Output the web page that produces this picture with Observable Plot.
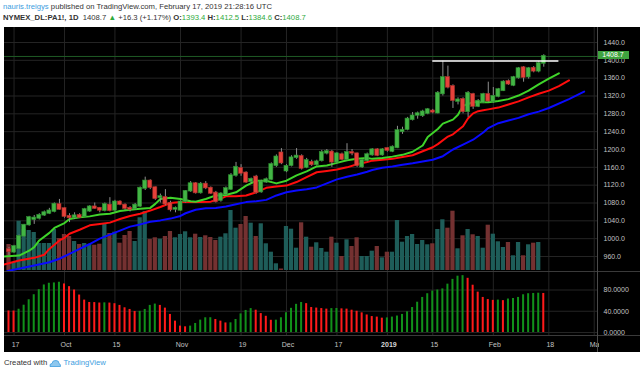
<!DOCTYPE html>
<html><head><meta charset="utf-8">
<script src="https://cdn.jsdelivr.net/npm/d3@7"></script>
<script src="https://cdn.jsdelivr.net/npm/@observablehq/plot@0.6"></script>
<style>
html,body{margin:0;padding:0;background:#fff;}
body{width:640px;height:374px;position:relative;overflow:hidden;font-family:"Liberation Sans",Arial,sans-serif;}
.hdr{position:absolute;left:3px;font-size:7.7px;line-height:9px;color:#333;white-space:nowrap;}
#h1{top:2px}
#h2{top:13px}
.g{color:#2eaa3c}
.bl{color:#3d9ee0}
#chart{position:absolute;left:4px;top:27px;width:636px;height:325px;background:#000;overflow:hidden}
.layer{position:absolute;left:0}
.layer svg{display:block}
#tag{position:absolute;left:593px;width:32px;height:8px;background:#3fa33f;color:#fff;font-size:7px;line-height:8px;text-align:center}
.hl{position:absolute;left:0;width:636px;height:1px;background:#3a3a3a}
#vsep{position:absolute;left:593px;top:0;width:1px;height:325px;background:#4a4a4a}
#foot{position:absolute;left:4px;top:358px;font-size:7.7px;line-height:10px;color:#333;white-space:nowrap;display:flex;align-items:center}
</style></head>
<body>
<div id="h1" class="hdr"></div>
<div id="h2" class="hdr"></div>
<div id="chart"></div>
<div id="foot">Created with&nbsp;<svg width="12" height="8" viewBox="0 0 12 8"><path d="M1 7.5 Q0.5 4.5 3 4.5 Q3.5 1 7 1.5 Q10 1.5 10 4.5 Q11.8 5 11.5 7.5 Z" fill="#8fc8ee" stroke="#3d9ee0" stroke-width="0.8"/></svg><span class="bl">&nbsp;TradingView</span></div>
<script>
// ---------- data ----------
const openP = [975,970,978,1006,1031,1043,1046,1053,1057,1061,
1076,1067,1050,1047,1052,1050,1062,1071,1068,1063,
1075,1064,1082,1075,1068,1067,1073,1113,1129,1114,
1092,1092,1079,1066,1064,1083,1107,1123,1103,1122,
1113,1102,1086,1099,1111,1142,1157,1147,1128,1138,
1105,1127,1133,1164,1192,1152,1164,1182,1184,1160,
1171,1166,1175,1192,1194,1172,1188,1178,1193,1190,
1161,1175,1188,1199,1188,1202,1196,1204,1240,1245,
1267,1277,1276,1281,1286,1282,1325,1361,1341,1308,
1312,1285,1323,1297,1306,1323,1307,1319,1332,1352,
1344,1361,1383,1363,1382,1376,1393.4];
const highP = [980,985,1008,1032,1050,1052,1056,1062,1068,1080,
1088,1069,1056,1058,1056,1068,1074,1080,1070,1080,
1092,1086,1085,1078,1072,1079,1116,1138,1132,1116,
1100,1110,1084,1071,1085,1108,1128,1126,1126,1128,
1116,1106,1103,1116,1146,1171,1166,1150,1136,1142,
1131,1136,1170,1188,1202,1166,1186,1202,1188,1180,
1176,1176,1198,1200,1198,1193,1192,1213,1200,1192,
1178,1192,1202,1202,1202,1204,1208,1252,1250,1272,
1283,1284,1288,1292,1290,1330,1398,1387,1345,1316,
1316,1330,1326,1312,1326,1351,1339,1337,1354,1356,
1364,1384,1386,1384,1386,1397,1412.5];
const lowP = [962,967,976,1004,1028,1032,1042,1050,1054,1058,
1064,1046,1036,1043,1045,1048,1059,1066,1058,1060,
1060,1060,1074,1064,1060,1064,1070,1108,1110,1086,
1080,1074,1060,1058,1062,1080,1104,1100,1100,1110,
1099,1080,1082,1096,1108,1138,1140,1124,1124,1100,
1102,1124,1130,1160,1166,1148,1161,1178,1154,1157,
1162,1163,1172,1188,1160,1168,1175,1175,1186,1160,
1158,1172,1185,1184,1185,1194,1193,1202,1234,1242,
1264,1268,1272,1278,1280,1280,1320,1336,1292,1300,
1280,1272,1290,1294,1303,1305,1304,1316,1330,1344,
1341,1358,1351,1358,1372,1372,1384.6];
const closeP = [971,982,1005,1030,1047,1046,1052,1058,1062,1077,
1066,1050,1047,1051,1048,1065,1071,1068,1064,1076,
1063,1082,1077,1068,1066,1075,1113,1129,1115,1090,
1094,1078,1065,1068,1082,1106,1123,1103,1122,1114,
1102,1083,1100,1112,1141,1160,1147,1127,1133,1104,
1127,1132,1166,1183,1170,1162,1181,1185,1158,1175,
1166,1172,1193,1195,1172,1190,1178,1193,1192,1164,
1175,1188,1199,1187,1199,1198,1205,1242,1243,1268,
1275,1280,1284,1289,1284,1326,1361,1340,1310,1311,
1285,1326,1297,1308,1323,1309,1319,1334,1351,1347,
1361,1381,1362,1381,1376,1392.4,1408.7];
const volume = [5200,1600,9860,8200,8000,7600,5400,5400,5400,8200,
6400,7200,6800,5800,5200,5400,5200,5060,5260,9400,
7400,7660,5460,7000,7800,5800,10540,11800,6200,6540,
6260,6800,7800,6540,7200,7740,6540,7260,6600,6940,
6600,6000,6660,7340,12000,8460,9200,10800,9460,6800,
9340,5340,3660,1340,300,8800,8260,4460,9540,6660,
4660,5540,4400,3660,6660,5460,2800,6140,4800,6540,
2800,2800,3860,4800,2540,3660,3660,10000,5660,6800,
7200,5200,6000,5140,5340,8200,10140,8460,11860,4340,
6940,8200,7140,6800,4460,9060,7260,5740,4600,5600,
2940,5600,2940,5140,5460,5600,null];
const oscVal = [40.6,40.4,43.8,51.4,61.6,71.1,80.6,89.5,92.7,93.3,
94.6,91.4,86.3,80,70.5,61,56.5,56.3,55.5,55.8,
55.4,54.2,51,46.5,43.4,39.6,39.8,43.4,51,53.5,
51,45.9,34,21.4,12,10.7,12,17,23.3,27.7,
27.8,24.5,21.4,18,18.2,24.5,35,41.5,45,42,
35.6,30.5,23,23.2,27.7,37.2,45.5,53,56.5,54.3,
47,46,45,44,45,45.2,44.5,44,42,40,
37,33,30,29,27,27.5,29,31,34,39,
47,57,66,73,78,80,82,91,100,106,
107,102,89,76,66,62,60.5,61,60,63,
64,66,71,73,73.5,74,73.5];
// Alligator lines (shifted forward past last bar)
const lipsIdx = [-1,2,4,5,6,8,9,11,12,14,16,18,20,22,24,26,28,29,30,32,34,36,37,39,41,43,45,47,49,51,53,55,57,59,61,63,65,67,69,71,72,74,76,78,80,82,83,85,86,88,89,90,92,94,95,97,99,101,103,105,107,109];
const lipsVal = [960,962,973,981,996,1013,1024,1035,1044,1048,1050,1054,1056,1062,1065,1067,1069,1078,1089,1092,1089,1084,1083,1089,1097,1098,1104,1119,1130,1130,1124,1130,1142,1151,1162,1164,1170,1176,1179,1181,1179,1181,1184,1188,1195,1209,1228,1246,1258,1267,1278,1298,1306,1306,1306,1309,1313,1321,1332,1346,1359,1371];
const teethIdx = [-1,2,5,7,8,10,11,12,14,16,18,20,22,24,26,28,30,32,34,36,38,40,42,43,45,47,49,51,53,55,57,59,61,63,65,67,69,71,72,74,76,78,80,82,84,85,87,88,89,90,91,92,93,94,95,97,99,101,103,105,107,109,111];
const teethVal = [942,951,957,964,977,996,1002,1011,1020,1030,1033,1036,1044,1051,1056,1063,1071,1080,1082,1082,1082,1083,1090,1095,1095,1097,1104,1114,1117,1119,1127,1138,1149,1152,1155,1160,1167,1172,1175,1177,1179,1183,1187,1196,1205,1212,1229,1234,1243,1252,1270,1281,1286,1288,1290,1294,1301,1308,1317,1325,1332,1342,1355];
const jawIdx = [-1,0,5,8,10,12,14,16,18,20,22,24,26,28,30,32,34,35,37,39,41,43,45,47,49,51,53,55,57,59,61,63,65,67,69,71,72,74,76,78,80,82,84,86,88,90,92,94,95,97,99,101,103,105,107,111,114];
const jawVal = [924,928,940,947,955,966,977,988,1000,1009,1018,1027,1032,1038,1041,1045,1051,1057,1065,1068,1069,1072,1077,1082,1084,1087,1097,1104,1108,1111,1115,1124,1133,1139,1144,1150,1154,1159,1162,1166,1169,1173,1177,1185,1200,1211,1222,1238,1248,1259,1265,1271,1279,1285,1293,1313,1330];
const resistIdx = [84, 109];
const resistPrice = 1398.5;
const xTickIdx = [1,11,21,34,46,55,65,75,84,96,107,116];
const xTickLabel = ["17","Oct","15","Nov","19","Dec","17","2019","15","Feb","18","Mar"];
const xTickBold = [false,false,false,false,false,false,false,true,false,false,false,false];
const priceTicks = [960,1000,1040,1080,1120,1160,1200,1240,1280,1320,1360,1400,1440];
const oscTicks = [0,40,80];

// ---------- derived tables ----------
const candles = closeP.map((c,i)=>({i, open:openP[i], high:highP[i], low:lowP[i], close:c, vol:volume[i]}));
const osc = oscVal.map((v,i)=>({i, v, c: (i>0 && v>oscVal[i-1]) ? "#11901a" : "#ff1a1a"}));
const pts = (a,b)=>a.map((i,k)=>({i, v:b[k]}));
const ticks = xTickIdx.map((i,k)=>({i, label:xTickLabel[k], bold:xTickBold[k]}));
const last = candles[candles.length-1], prev = candles[candles.length-2];

// ---------- header ----------
const chg = last.close - prev.close;
document.getElementById("h1").innerHTML = '<span class="bl">nauris.treigys</span> published on TradingView.com, February 17, 2019 21:28:16 UTC';
document.getElementById("h2").innerHTML = '<b>NYMEX_DL:PA1!, 1D</b>&nbsp; ' + last.close.toFixed(1) +
  ' <span class="g">&#9650;</span> +' + chg.toFixed(1) + ' (+' + (chg/prev.close*100).toFixed(2) + '%) ' +
  '<b>O:</b><span class="g">' + last.open.toFixed(1) + '</span> <b>H:</b><span class="g">' + last.high.toFixed(1) +
  '</span> <b>L:</b><span class="g">' + last.low.toFixed(1) + '</span> <b>C:</b><span class="g">' + last.close.toFixed(1) + '</span>';

// ---------- plots ----------
const W = 636, MAIN_H = 244;
const xScale = {type:"linear", domain:[0,106], range:[4.5, 4.5 + 106*5.045], axis:null};
const yPrice = {domain:[960,1440], range:[229,15], axis:null};
const baseStyle = {background:"transparent", color:"#c3c3c3", fontFamily:"Liberation Sans, Arial, sans-serif", fontSize:"7px"};
const chart = document.getElementById("chart");
function addLayer(el, top){ const d=document.createElement("div"); d.className="layer"; d.style.top=top+"px"; d.appendChild(el); chart.appendChild(d); return d; }

// grid + price axis
addLayer(Plot.plot({
  width:W, height:MAIN_H, marginTop:0, marginBottom:0, marginLeft:0, marginRight:43,
  x:xScale, y:yPrice, style:baseStyle,
  marks:[
    Plot.ruleX(xTickIdx, {stroke:"#242424"}),
    Plot.ruleY(priceTicks, {stroke:"#242424"}),
    Plot.axisY(priceTicks, {anchor:"right", tickSize:0, tickPadding:6, tickFormat:d3.format(".1f"), label:null})
  ]
}), 0);

// volume overlay
addLayer(Plot.plot({
  width:593, height:MAIN_H, margin:0,
  x:xScale, y:{domain:[0,12000], range:[243,183], axis:null}, style:baseStyle,
  marks:[
    Plot.rect(candles.filter(d=>d.vol!=null), {x1:d=>d.i-0.42, x2:d=>d.i+0.42, y1:()=>0, y2:"vol",
      fill:d=>d.close>=d.open ? "#1e5d59" : "#743131"})
  ]
}), 0);

// candles + alligator
const pricePlot = Plot.plot({
  width:W, height:MAIN_H, marginTop:0, marginBottom:0, marginLeft:0, marginRight:43,
  x:xScale, y:yPrice, style:baseStyle,
  marks:[
    Plot.ruleY([last.close], {stroke:"#1f5a25", strokeWidth:1}),
    Plot.line(pts(jawIdx,jawVal), {x:"i", y:"v", stroke:"#0a0aff", strokeWidth:2, clip:true}),
    Plot.line(pts(teethIdx,teethVal), {x:"i", y:"v", stroke:"#ff0d0d", strokeWidth:2, clip:true}),
    Plot.line(pts(lipsIdx,lipsVal), {x:"i", y:"v", stroke:"#3fd42a", strokeWidth:2, clip:true}),
    Plot.ruleX(candles, {x:"i", y1:"low", y2:"high", stroke:"#8e8e8e", strokeWidth:1}),
    Plot.rect(candles, {x1:d=>d.i-0.4, x2:d=>d.i+0.4, y1:"open", y2:"close", insetTop:-0.6, insetBottom:-0.6,
      fill:d=>d.close>=d.open ? "#43b545" : "#e5413a",
      stroke:d=>d.close>=d.open ? "#2c8a2f" : "#a9302a", strokeWidth:0.6}),
    Plot.ruleY([{a:resistIdx[0], b:resistIdx[1], p:resistPrice}], {x1:"a", x2:"b", y:"p", stroke:"#ffffff", strokeWidth:1.5})
  ]
});
addLayer(pricePlot, 0);

// last price tag
const tag = document.createElement("div");
tag.id = "tag";
tag.textContent = last.close.toFixed(1);
tag.style.top = (pricePlot.scale("y").apply(last.close) - 5) + "px";
chart.appendChild(tag);

// oscillator pane
addLayer(Plot.plot({
  width:W, height:64, marginTop:0, marginBottom:0, marginLeft:0, marginRight:43,
  x:xScale, y:{domain:[0,80], range:[60,17.5], axis:null}, style:baseStyle,
  marks:[
    Plot.ruleX(xTickIdx, {stroke:"#242424"}),
    Plot.ruleY(oscTicks, {stroke:"#242424"}),
    Plot.rect(osc, {x1:d=>d.i-0.2, x2:d=>d.i+0.2, y1:()=>0, y2:"v", fill:"c"}),
    Plot.axisY(oscTicks, {anchor:"right", tickSize:0, tickPadding:6, tickFormat:d3.format(".4f"), label:null})
  ]
}), 245);

// time axis labels
addLayer(Plot.plot({
  width:595, height:16, margin:0, x:xScale, style:{...baseStyle, overflow:"hidden"},
  marks:[
    Plot.text(ticks.filter(d=>!d.bold), {x:"i", text:"label", fill:"#c3c3c3", dx:1.5}),
    Plot.text(ticks.filter(d=>d.bold), {x:"i", text:"label", fill:"#d8d8d8", dx:1.5, fontWeight:"bold"})
  ]
}), 309);

// pane separators
[244, 308].forEach(t=>{ const l=document.createElement("div"); l.className="hl"; l.style.top=t+"px"; chart.appendChild(l); });
const vs = document.createElement("div"); vs.id="vsep"; chart.appendChild(vs);
</script>
</body></html>
